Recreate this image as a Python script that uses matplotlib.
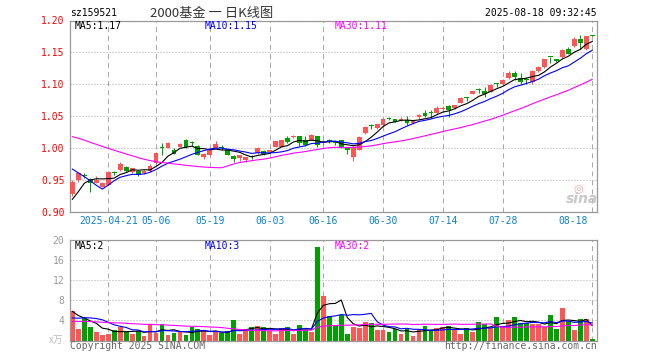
import numpy as np
import pandas as pd
import matplotlib
matplotlib.use("Agg")
import matplotlib.pyplot as plt
from matplotlib.transforms import blended_transform_factory, ScaledTranslation

W, H = 660, 360

# trading calendar of the window shown
start_date = "2025-04-11"
end_date = "2025-08-18"
holidays = ["2025-05-01", "2025-05-02", "2025-05-05", "2025-06-02"]

opens = [0.928, 0.949, 0.957, 0.951, 0.945, 0.939, 0.942, 0.961, 0.965, 0.970,
         0.962, 0.963, 0.961, 0.963, 0.976, 1.000, 1.000, 0.997, 1.002, 1.013,
         1.008, 1.003, 0.986, 0.989, 1.000, 1.001, 0.998, 0.987, 0.984, 0.981,
         0.986, 0.992, 0.995, 0.993, 1.002, 1.002, 1.016, 1.017, 1.018, 1.012,
         1.013, 1.018, 1.007, 1.011, 1.009, 1.012, 1.000, 0.986, 0.997, 1.023,
         1.035, 1.031, 1.036, 1.047, 1.045, 1.044, 1.044, 1.039, 1.049, 1.055,
         1.056, 1.054, 1.061, 1.066, 1.062, 1.071, 1.080, 1.085, 1.092, 1.090,
         1.088, 1.101, 1.100, 1.109, 1.117, 1.110, 1.107, 1.104, 1.120, 1.127,
         1.143, 1.139, 1.142, 1.156, 1.160, 1.171, 1.155, 1.177]
highs = [0.950, 0.962, 0.960, 0.953, 0.955, 0.946, 0.963, 0.964, 0.977, 0.972,
         0.969, 0.964, 0.965, 0.975, 0.993, 1.008, 1.009, 1.000, 1.008, 1.014,
         1.010, 1.004, 0.992, 0.998, 1.010, 1.004, 0.999, 0.988, 0.989, 0.986,
         0.988, 1.001, 0.996, 0.997, 1.010, 1.013, 1.018, 1.020, 1.019, 1.018,
         1.021, 1.019, 1.012, 1.014, 1.011, 1.013, 1.001, 1.003, 1.018, 1.034,
         1.038, 1.038, 1.047, 1.049, 1.046, 1.048, 1.050, 1.043, 1.053, 1.060,
         1.060, 1.065, 1.066, 1.068, 1.068, 1.080, 1.080, 1.090, 1.094, 1.095,
         1.100, 1.102, 1.108, 1.120, 1.121, 1.117, 1.112, 1.122, 1.129, 1.140,
         1.143, 1.140, 1.155, 1.158, 1.174, 1.177, 1.176, 1.177]
lows = [0.925, 0.947, 0.952, 0.931, 0.944, 0.938, 0.941, 0.957, 0.963, 0.962,
        0.961, 0.956, 0.959, 0.962, 0.975, 0.988, 0.999, 0.990, 1.001, 1.000,
        1.003, 0.988, 0.982, 0.987, 0.999, 0.996, 0.988, 0.978, 0.980, 0.978,
        0.982, 0.991, 0.989, 0.992, 1.001, 1.001, 1.008, 1.016, 1.003, 1.003,
        1.012, 1.002, 1.005, 1.007, 1.004, 0.999, 0.990, 0.980, 0.996, 1.022,
        1.029, 1.030, 1.035, 1.043, 1.040, 1.042, 1.036, 1.038, 1.045, 1.049,
        1.047, 1.053, 1.060, 1.049, 1.061, 1.070, 1.073, 1.084, 1.086, 1.080,
        1.087, 1.096, 1.099, 1.108, 1.106, 1.101, 1.100, 1.101, 1.119, 1.126,
        1.134, 1.135, 1.141, 1.147, 1.159, 1.156, 1.154, 1.176]
closes = [0.946, 0.960, 0.956, 0.945, 0.950, 0.945, 0.962, 0.960, 0.974, 0.964,
          0.968, 0.958, 0.964, 0.972, 0.992, 0.999, 1.008, 0.991, 1.006, 1.001,
          1.007, 0.989, 0.991, 0.997, 1.006, 1.000, 0.989, 0.982, 0.988, 0.985,
          0.985, 1.000, 0.990, 0.996, 1.010, 1.012, 1.009, 1.019, 1.008, 1.004,
          1.020, 1.004, 1.009, 1.010, 1.008, 1.000, 0.997, 1.002, 1.017, 1.033,
          1.034, 1.037, 1.046, 1.046, 1.041, 1.046, 1.039, 1.042, 1.051, 1.050,
          1.055, 1.062, 1.063, 1.060, 1.067, 1.078, 1.079, 1.089, 1.091, 1.085,
          1.099, 1.100, 1.107, 1.118, 1.112, 1.104, 1.106, 1.120, 1.127, 1.139,
          1.142, 1.136, 1.154, 1.148, 1.171, 1.164, 1.176, 1.176]
# volume, in units of 10k
volumes = [5.9, 2.3, 4.5, 2.7, 1.7, 1.1, 1.3, 2.1, 2.6, 1.7,
           1.3, 1.8, 0.8, 3.3, 1.5, 3.3, 1.1, 1.5, 1.6, 1.1,
           2.6, 2.3, 1.9, 1.1, 1.6, 1.5, 1.9, 4.1, 1.3, 1.9,
           2.7, 2.9, 2.7, 1.9, 1.3, 2.5, 2.7, 1.3, 3.1, 2.5,
           1.7, 18.7, 8.9, 4.8, 2.8, 5.1, 1.3, 2.7, 2.5, 3.7,
           3.5, 2.1, 2.1, 1.7, 2.3, 1.3, 2.3, 0.9, 2.3, 2.9,
           2.1, 2.5, 2.7, 2.9, 2.1, 1.3, 2.5, 1.7, 3.7, 3.2,
           2.5, 4.7, 2.9, 4.1, 4.7, 3.5, 3.5, 3.3, 3.3, 2.7,
           5.1, 2.3, 6.5, 3.8, 2.1, 4.3, 4.3, 0.3]

# sessions before the window, only used to warm up the moving averages
hist_closes = [1.035, 1.045, 1.050, 1.040, 1.045, 1.055, 1.050, 1.060, 1.055, 1.050,
               1.045, 1.040, 1.035, 1.045, 1.040, 1.030, 1.035, 1.030, 1.040, 1.035,
               1.020, 1.015, 1.010, 1.020, 1.005, 0.900, 0.890, 0.920, 0.940]
hist_volumes = [3.2, 3.6, 3.9, 3.4, 3.1, 3.7, 3.5, 3.3, 3.8, 3.6,
                3.2, 3.4, 3.1, 3.5, 3.7, 3.3, 3.2, 3.6, 3.4, 3.5,
                3.0, 3.4, 3.2, 2.9, 3.5, 6.5, 7.0, 5.5, 4.1]

tick_dates = ["2025-04-21", "2025-05-06", "2025-05-19", "2025-06-03", "2025-06-16",
              "2025-06-30", "2025-07-14", "2025-07-28", "2025-08-18"]
vol_ma_labels = ["MA5:2", "MA10:3", "MA30:2"]

RED = "#ff5555"
GREEN = "#00a000"
MA_COLORS = ["#000000", "#0000ff", "#ff00ff"]
GRID = "#aaaaaa"
SPINE = "#999999"

plt.rcParams["font.family"] = "DejaVu Sans Mono"
plt.rcParams["lines.scale_dashes"] = False

dates = [d for d in pd.bdate_range(start_date, end_date) if d.strftime("%Y-%m-%d") not in holidays]
n = len(closes)
x = np.arange(n)
o = np.array(opens); c = np.array(closes)
hi = np.array(highs); lo = np.array(lows)
v = np.array(volumes)
colors = [RED if cc > oo else GREEN for oo, cc in zip(o, c)]

k = len(hist_closes)
price_s = pd.Series(hist_closes + closes)
vol_s = pd.Series(hist_volumes + volumes)
price_ma = [price_s.rolling(w).mean().to_numpy()[k:] for w in (5, 10, 30)]
vol_ma = [vol_s.rolling(w).mean().to_numpy()[k:] for w in (5, 10, 30)]

date_str = [d.strftime("%Y-%m-%d") for d in dates]
tick_idx = [date_str.index(t) for t in tick_dates]
tick_lbl = [tick_dates[0]] + [t[5:] for t in tick_dates[1:]]

fig = plt.figure(figsize=(W / 100, H / 100), dpi=100)
ax = fig.add_axes([70 / W, 1 - 211.5 / H, 527 / W, 191 / H])
axv = fig.add_axes([70 / W, 1 - 340.5 / H, 527 / W, 100.5 / H])

for a in (ax, axv):
    a.set_xlim(-0.4, n - 0.2)
    a.set_axisbelow(True)
    for s in a.spines.values():
        s.set_color(SPINE)
        s.set_linewidth(0.9)
    a.set_xticks(tick_idx)
    a.tick_params(axis="x", length=0, labelbottom=False)
    a.tick_params(axis="y", length=0, pad=4, labelsize=7)
    a.grid(axis="x", color=GRID, lw=0.75, ls=(0, (3.6, 2.9)))
    a.grid(axis="y", color=GRID, lw=0.75, ls=(0, (0.72, 1.44)))

# --- candles
body_lo = np.minimum(o, c)
body_h = np.maximum(np.abs(c - o), 0.0016)
ax.vlines(x, lo, hi, colors=colors, lw=0.75, zorder=2)
ax.bar(x, body_h, bottom=body_lo, width=0.8, color=colors, lw=0, zorder=3)
for ma, col in zip(price_ma, MA_COLORS):
    ax.plot(x, ma, color=col, lw=0.8, zorder=4)

ax.set_ylim(0.90, 1.20)
yt = np.arange(0.90, 1.2001, 0.05)
ax.set_yticks(yt)
ax.set_yticklabels([f"{t:.2f}" for t in yt], color="#ff0000")

# date labels under the price panel
tr = blended_transform_factory(ax.transData, ax.transAxes)
for i, (ti, tl) in enumerate(zip(tick_idx, tick_lbl)):
    if i == len(tick_idx) - 1:
        ax.text(ti, -0.052, tl, transform=tr + ScaledTranslation(-0.04, 0, fig.dpi_scale_trans),
                ha="right", va="center", fontsize=7, color="#0a80d0")
    else:
        ax.text(ti, -0.052, tl, transform=tr, ha="center", va="center", fontsize=7, color="#0a80d0")

# --- volume
axv.bar(x, v, width=0.8, color=colors, lw=0, zorder=2)
for ma, col in zip(vol_ma, MA_COLORS):
    axv.plot(x, ma, color=col, lw=0.8, zorder=4)
axv.set_ylim(0, 20)
axv.set_yticks([4, 8, 12, 16, 20])
axv.set_yticklabels(["4", "8", "12", "16", "20"], color="#999999")

# --- text
def ftext(px, py, s, **kw):
    fig.text(px / W, 1 - py / H, s, **kw)

ftext(70, 13.5, "sz159521", fontsize=7, va="center", color="#000000")
ftext(212, 13, "2000基金 一 日K线图", fontsize=9.5, ha="center", va="center", color="#333333",
      family=["Noto Sans CJK SC", "DejaVu Sans"])
ftext(597, 13, "2025-08-18 09:32:45", fontsize=7, ha="right", va="center", color="#000000")

price_lbls = [f"MA5:{price_ma[0][-1]:.2f}", f"MA10:{price_ma[1][-1]:.2f}", f"MA30:{price_ma[2][-1]:.2f}"]
for px, s, col in zip((75, 205, 335), price_lbls, MA_COLORS):
    ftext(px, 26, s, fontsize=7, va="center", color=col)
for px, s, col in zip((75, 205, 335), vol_ma_labels, MA_COLORS):
    ftext(px, 246, s, fontsize=7, va="center", color=col)

ftext(70, 346, "Copyright 2025 SINA.COM", fontsize=7, va="center", color="#666666")
ftext(597, 346, "http://finance.sina.com.cn", fontsize=7, ha="right", va="center", color="#666666")
ftext(56, 340, "x万", fontsize=7, ha="center", va="center", color="#bbbbbb",
      family=["Noto Sans CJK SC", "DejaVu Sans"])

# sina watermark
ftext(578, 188, "◎", fontsize=8, ha="center", va="center", color="#f4a6a6", family="DejaVu Sans")
ftext(582, 199, "sina", fontsize=10, ha="center", va="center", color="#c8c8c8",
      fontweight="bold", fontstyle="italic", family="DejaVu Sans")

fig.savefig("out.png", dpi=100)
